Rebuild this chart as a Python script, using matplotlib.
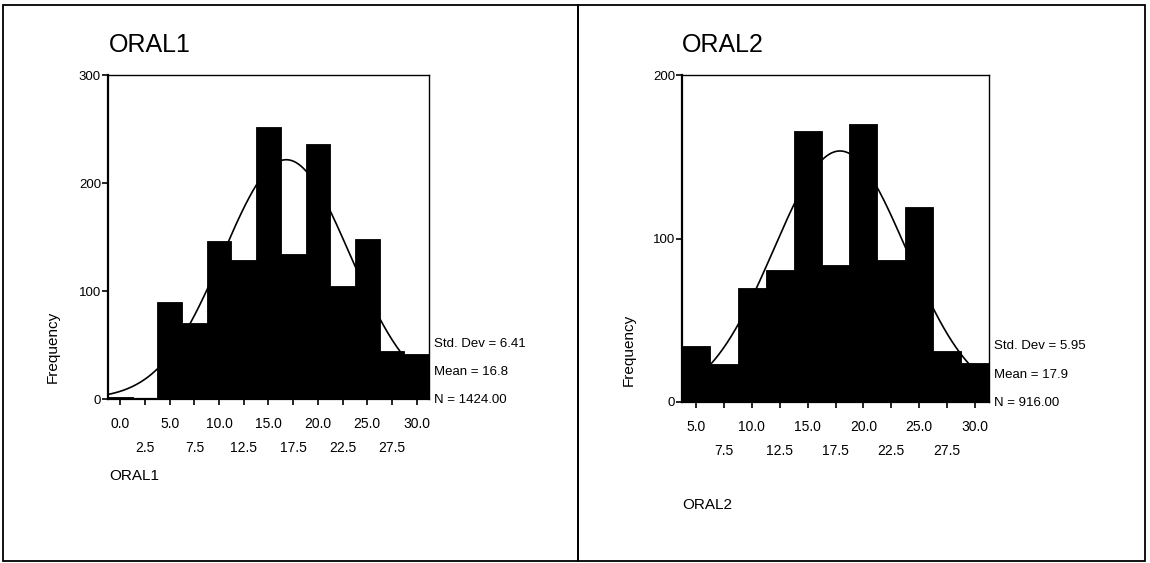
import numpy as np
import matplotlib.pyplot as plt
from matplotlib.patches import Rectangle

# bin centres (width 2.5) and frequencies
oral1_bins = [0.0, 2.5, 5.0, 7.5, 10.0, 12.5, 15.0, 17.5, 20.0, 22.5, 25.0, 27.5, 30.0]
oral1_freq = [2, 1, 90, 70, 146, 129, 252, 134, 236, 105, 148, 44, 42]
oral1_stats = {"sd": 6.41, "mean": 16.8, "n": 1424}

oral2_bins = [5.0, 7.5, 10.0, 12.5, 15.0, 17.5, 20.0, 22.5, 25.0, 27.5, 30.0]
oral2_freq = [34, 23, 70, 81, 166, 84, 170, 87, 119, 31, 24]
oral2_stats = {"sd": 5.95, "mean": 17.9, "n": 916}

plt.rcParams['font.family'] = ['Liberation Sans', 'DejaVu Sans']

W, H = 1150, 563
fig = plt.figure(figsize=(W / 100, H / 100), dpi=100)
fig.patch.set_facecolor('white')

# frame boxes around the two panels
frame = fig.add_axes([0, 0, 1, 1])
frame.set_xlim(0, W)
frame.set_ylim(H, 0)
frame.axis('off')
frame.add_patch(Rectangle((3, 5), 575, 556, fill=False, lw=1.3, ec='black'))
frame.add_patch(Rectangle((578, 5), 567, 556, fill=False, lw=1.3, ec='black'))


def px_axes(left, top, right, bottom):
    return fig.add_axes([left / W, 1 - bottom / H, (right - left) / W, (bottom - top) / H])


def draw_hist(ax, bins, freq, stats, xlim, ymax, name, title_xy, xlabel_xy):
    width = 2.5
    ax.bar(bins, freq, width=width, color='black', edgecolor='black', linewidth=0.6, zorder=2)

    # normal curve from the displayed mean / sd / N
    xs = np.linspace(xlim[0], xlim[1], 300)
    ys = stats["n"] * width / (stats["sd"] * np.sqrt(2 * np.pi)) * \
        np.exp(-0.5 * ((xs - stats["mean"]) / stats["sd"]) ** 2)
    ax.plot(xs, ys, color='black', lw=1.2, zorder=3)

    ax.set_xlim(*xlim)
    ax.set_ylim(0, ymax)
    ax.set_yticks(range(0, ymax + 1, 100))
    ax.tick_params(axis='y', length=4, width=1.2, labelsize=9.5, pad=1)

    major = bins[::2]
    minor = bins[1::2]
    ax.set_xticks(major)
    ax.set_xticklabels([f"{v:.1f}" for v in major])
    ax.set_xticks(minor, minor=True)
    ax.set_xticklabels([f"{v:.1f}" for v in minor], minor=True)
    ax.tick_params(axis='x', which='both', length=4, width=1.2, labelsize=10)
    ax.tick_params(axis='x', which='major', pad=9)
    ax.tick_params(axis='x', which='minor', pad=26)

    for side in ['top', 'right']:
        ax.spines[side].set_linewidth(1.0)
    for side in ['left', 'bottom']:
        ax.spines[side].set_linewidth(1.6)

    ax.set_ylabel('Frequency', fontsize=11)
    ax.yaxis.set_label_coords(-0.15, 0.16)

    # stats block to the right of the plot
    lines = [f"Std. Dev = {stats['sd']:.2f}",
             f"Mean = {stats['mean']:.1f}",
             f"N = {stats['n']:.2f}"]
    for i, txt in enumerate(lines):
        ax.text(1.015, 0.17 - i * 0.087, txt, transform=ax.transAxes,
                fontsize=9.5, ha='left', va='center')

    frame.text(title_xy[0], title_xy[1], name, fontsize=18, ha='left', va='center')
    frame.text(xlabel_xy[0], xlabel_xy[1], name, fontsize=11, ha='left', va='center')


ax1 = px_axes(108, 75, 429, 399)
draw_hist(ax1, oral1_bins, oral1_freq, oral1_stats, (-1.25, 31.25), 300,
          'ORAL1', (109, 45), (109, 476))

ax2 = px_axes(682, 75, 989, 402)
draw_hist(ax2, oral2_bins, oral2_freq, oral2_stats, (3.75, 31.25), 200,
          'ORAL2', (682, 45), (682, 505))

fig.savefig('out.png', dpi=100, facecolor='white')
